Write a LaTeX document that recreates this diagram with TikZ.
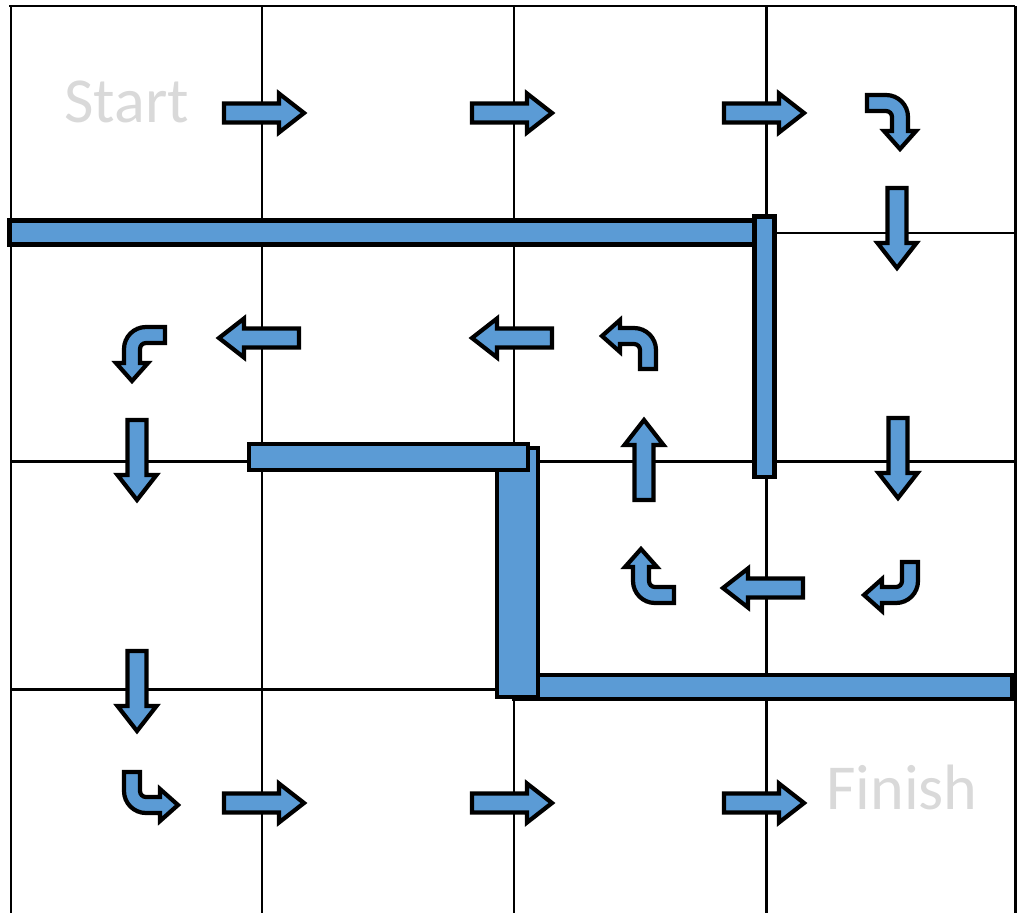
\documentclass[tikz,border=0pt]{standalone}
\usepackage{fontspec}
\setmainfont{Carlito}
\usepackage{tikz}

\definecolor{wallblue}{HTML}{5B9BD5}
\definecolor{signgray}{HTML}{D9D9D9}

\tikzset{
  gridline/.style={line width=1.7pt},
  wall/.style={draw=black, fill=wallblue, line width=2.6pt},
  blockarrow/.style={draw=black, fill=wallblue, line width=2.4pt, line join=miter},
  signtext/.style={text=signgray, font=\fontsize{36.5}{40}\selectfont, inner sep=0pt},
  fwdarrow/.pic={
    \draw[blockarrow] (-40,-9.5) -- (15,-9.5) -- (15,-19.5) -- (40,0) -- (15,19.5) -- (15,9.5) -- (-40,9.5) -- cycle;
  },
  bendarrow/.pic={
    \draw[blockarrow] (0,-8) -- (19,-8) arc[start angle=-90, end angle=0, radius=22]
      -- (41,28) -- (49,28) -- (33,46) -- (17,28) -- (25,28) -- (25,14)
      arc[start angle=0, end angle=-90, radius=6] -- (0,8) -- cycle;
  }
}

\begin{document}
\begin{tikzpicture}[x=0.02cm, y=-0.02cm]
\useasboundingbox (0,0) rectangle (1021,913);

% grid
\draw[gridline] (9,6) -- (1015,6);
\foreach \gx in {11,262,514,766,1015}
  \draw[gridline] (\gx,6) -- (\gx,913);
\foreach \gy in {233,461,689}
  \draw[gridline] (11,\gy) -- (1015,\gy);

% labels
\node[signtext, anchor=base west] (start) at (64,122) {Start};
\node[signtext, anchor=base west] (finish) at (826,809) {Finish};

% straight moves
\foreach \px/\py/\ang in {264/113/0, 512/113/0, 764/113/0,
                          897/228/-90, 137/460/-90, 898/458/-90, 137/691/-90,
                          259/338/180, 512/338/180, 763/588/180,
                          644/460/90,
                          264/803/0, 512/803/0, 764/803/0}
  \pic[rotate=\ang] at (\px,\py) {fwdarrow};

% turns
\pic at (867,103) {bendarrow};
\pic[xscale=-1] at (165,335) {bendarrow};
\pic[rotate=-90, xscale=-1] at (648,369) {bendarrow};
\pic[rotate=180] at (674,595) {bendarrow};
\pic[rotate=-90] at (910,562) {bendarrow};
\pic[rotate=90, xscale=-1] at (132,772) {bendarrow};

% walls
\draw[wall] (9.5,220.5) rectangle (757,244.5);
\draw[wall] (754.5,216.5) rectangle (774.5,477);
\draw[wall] (514,675) rectangle (1012,699);
\draw[wall] (497,448) rectangle (538,697);
\draw[wall] (249,444) rectangle (528,470);
\end{tikzpicture}
\end{document}
